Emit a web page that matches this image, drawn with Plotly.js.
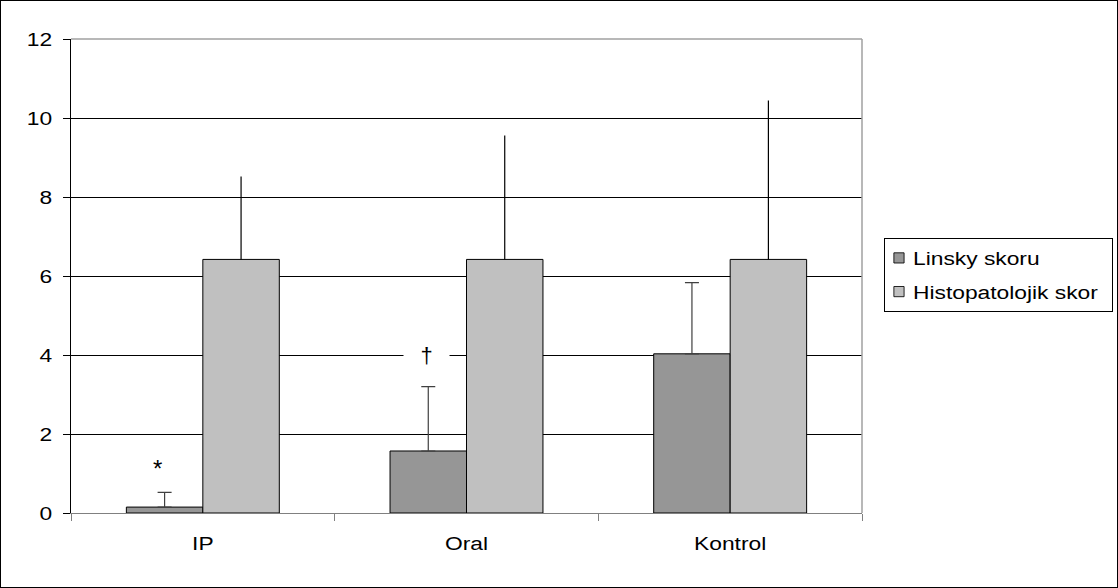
<!DOCTYPE html>
<html><head><meta charset="utf-8">
<script src="https://cdn.plot.ly/plotly-3.0.1.min.js"></script>
<style>
body{margin:0;padding:0;background:#fff}
#chart{width:1116px;height:586px;border:1px solid #000}
#chart g.xtick{transform-box:fill-box;transform-origin:center;transform:scaleX(1.2)}
#chart g.ytick{transform-box:fill-box;transform-origin:right center;transform:scaleX(1.2)}
#chart g.legend g.scrollbox{clip-path:none !important}
#chart g.legend rect.bg{width:228px}
#chart text.legendtext{transform-box:fill-box;transform-origin:left center;transform:translateX(-12px) scaleX(1.2)}
#chart g.legendpoints{transform-box:fill-box;transform-origin:center;transform:translateX(-6px) scale(0.85)}
</style>
</head><body><div id="chart"></div>
<script>
const categories = ["IP", "Oral", "Kontrol"];
const linsky = [0.15, 1.57, 4.03];
const linskyErr = [0.37, 1.63, 1.8];
const histo = [6.42, 6.42, 6.42];
const histoErr = [2.1, 3.14, 4.02];
const seriesNames = ["Linsky skoru", "Histopatolojik skor"];
const yTicks = [0, 2, 4, 6, 8, 10, 12];
const marks = [{cat: "IP", y: 1.12, text: "*"}, {cat: "Oral", y: 4.0, text: "†"}];

const fam = "Liberation Sans, Arial, sans-serif";
const font = {family: fam, size: 19, color: "#000"};
const traces = [
  {type: "bar", name: seriesNames[0], legendgroup: "a", x: categories, y: linsky,
   marker: {color: "#969696", line: {color: "#000", width: 1}},
   error_y: {type: "data", symmetric: false, array: linskyErr, arrayminus: linsky.map(() => 0), color: "#404040", thickness: 1.2, width: 7}},
  {type: "bar", name: seriesNames[1], legendgroup: "b", x: categories, y: histo,
   marker: {color: "#C0C0C0", line: {color: "#000", width: 1}},
   error_y: {type: "data", symmetric: false, array: histoErr, arrayminus: histo.map(() => 0), color: "#000", thickness: 1.2, width: 0}}
];
const layout = {
  width: 1116, height: 586,
  margin: {l: 70, r: 255, t: 38, b: 74},
  paper_bgcolor: "#fff", plot_bgcolor: "#fff",
  font: font,
  barmode: "group", bargap: 0.42, bargroupgap: 0,
  showlegend: true,
  legend: {x: 1.0278, xanchor: "left", y: 0.502, yanchor: "middle", bordercolor: "#000", borderwidth: 1, bgcolor: "#fff", font: font, tracegroupgap: 6, itemwidth: 30},
  xaxis: {type: "category", showline: true, linecolor: "#808080", linewidth: 1, ticks: "outside", tickson: "boundaries", ticklen: 7, tickcolor: "#808080", showgrid: false, tickfont: font, zeroline: false, ticklabelstandoff: 13},
  yaxis: {range: [0, 12], tickvals: yTicks, ticktext: yTicks.map(String), showline: true, linecolor: "#000", linewidth: 1, ticks: "outside", ticklen: 7, tickcolor: "#000", showgrid: true, gridcolor: "#000", gridwidth: 1, zeroline: false, tickfont: font, ticklabelstandoff: 7},
  shapes: [
    {type: "line", xref: "paper", yref: "paper", x0: 0, x1: 1, y0: 1, y1: 1, line: {color: "#a0a0a0", width: 1.5}},
    {type: "line", xref: "paper", yref: "paper", x0: 1, x1: 1, y0: 0, y1: 1, line: {color: "#a0a0a0", width: 1.5}}
  ],
  annotations: marks.map(m => ({x: m.cat, y: m.y, xref: "x", yref: "y", text: m.text, showarrow: false,
    xshift: m.text === "*" ? -45 : -40, width: m.text === "*" ? null : 37,
    font: {family: fam, size: m.text === "*" ? 24 : 22, color: "#000"}, bgcolor: "#fff", borderpad: 4}))
};
Plotly.newPlot("chart", traces, layout, {displayModeBar: false, staticPlot: true});
</script></body></html>
